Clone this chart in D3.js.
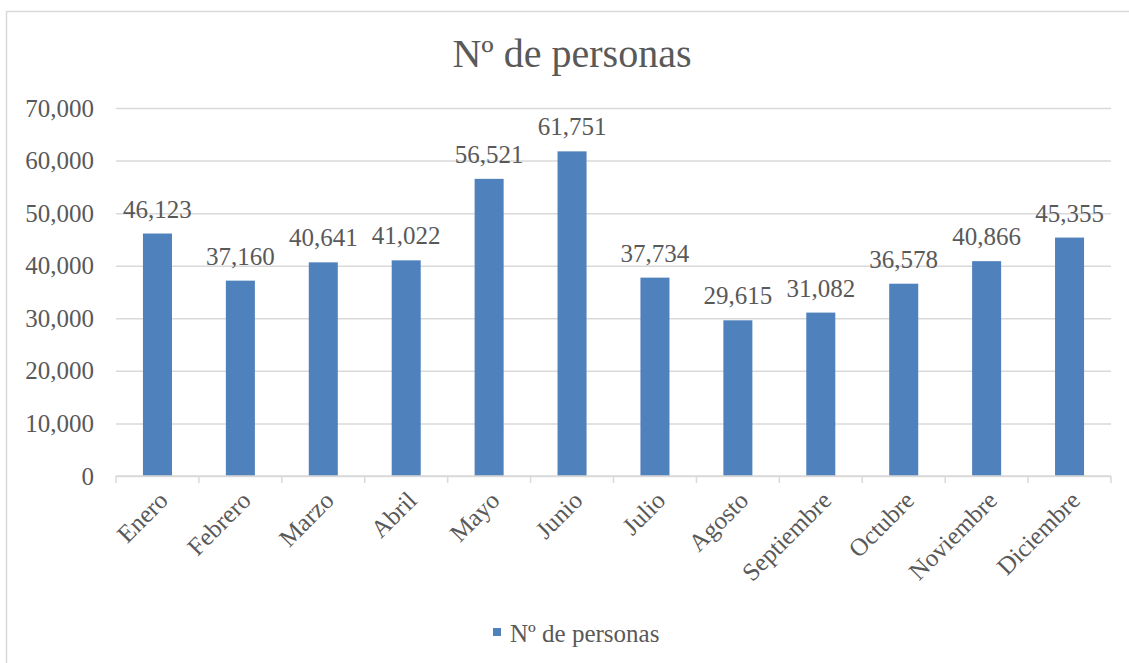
<!DOCTYPE html>
<html>
<head>
<meta charset="utf-8">
<script src="https://cdn.jsdelivr.net/npm/d3@7"></script>
<style>
  body { margin: 0; background: #fff; }
  text { font-family: "Liberation Serif", serif; fill: #595959; }
</style>
</head>
<body>
<div id="chart"></div>
<script>
// data
const months = ["Enero", "Febrero", "Marzo", "Abril", "Mayo", "Junio", "Julio",
  "Agosto", "Septiembre", "Octubre", "Noviembre", "Diciembre"];
const personas = [46123, 37160, 40641, 41022, 56521, 61751, 37734,
  29615, 31082, 36578, 40866, 45355];
const yTicks = [0, 10000, 20000, 30000, 40000, 50000, 60000, 70000];
const seriesName = "Nº de personas";

const W = 1129, H = 663;
const plot = { left: 116, right: 1111, top: 108, bottom: 476 };
const barColor = "#4F81BD";
const gridColor = "#d9d9d9";
const fmt = d3.format(",");

const svg = d3.select("#chart").append("svg")
  .attr("width", W).attr("height", H);

// chart border
svg.append("rect")
  .attr("x", 6.5).attr("y", 11.5)
  .attr("width", W + 10).attr("height", H + 10)
  .attr("fill", "none").attr("stroke", gridColor).attr("stroke-width", 1.5);

// scales
const x = d3.scaleBand().domain(months).range([plot.left, plot.right]).paddingInner(0.65).paddingOuter(0.325);
const xb = d3.scaleBand().domain(months).range([plot.left, plot.right]);
const y = d3.scaleLinear().domain([0, 70000]).range([plot.bottom, plot.top]);

// title
svg.append("text")
  .attr("x", 572).attr("y", 67)
  .attr("text-anchor", "middle")
  .style("font-size", "40px")
  .text(seriesName);

// gridlines + y axis labels
const yAxis = svg.append("g")
  .attr("transform", `translate(${plot.left},0)`)
  .call(d3.axisLeft(y).tickValues(yTicks).tickFormat(d => fmt(d))
    .tickSize(-(plot.right - plot.left)).tickPadding(22));
yAxis.select(".domain").remove();
yAxis.selectAll(".tick line").attr("stroke", gridColor).attr("stroke-width", 1.5);
yAxis.selectAll(".tick text")
  .attr("fill", "#595959")
  .attr("dy", "0.32em")
  .style("font-size", "25px")
  .style("font-family", "Liberation Serif, serif");

// bars
svg.append("g").selectAll("rect")
  .data(personas)
  .join("rect")
  .attr("x", (d, i) => x(months[i]))
  .attr("width", x.bandwidth())
  .attr("y", d => y(d))
  .attr("height", d => y(0) - y(d))
  .attr("fill", barColor);

// x axis line + ticks
const xAxis = svg.append("g")
  .attr("transform", `translate(0,${plot.bottom})`);
xAxis.append("line")
  .attr("x1", plot.left).attr("x2", plot.right)
  .attr("stroke", gridColor).attr("stroke-width", 1.5);
xAxis.selectAll("line.tk")
  .data(months.concat(["end"]))
  .join("line")
  .attr("class", "tk")
  .attr("x1", (d, i) => i < months.length ? xb(d) : plot.right)
  .attr("x2", (d, i) => i < months.length ? xb(d) : plot.right)
  .attr("y1", 0).attr("y2", 7)
  .attr("stroke", gridColor).attr("stroke-width", 1.5);

// x labels rotated
xAxis.selectAll("text.lbl")
  .data(months)
  .join("text")
  .attr("class", "lbl")
  .attr("text-anchor", "end")
  .attr("transform", d => `translate(${xb(d) + xb.bandwidth() / 2 + 12},${26}) rotate(-45)`)
  .style("font-size", "25px")
  .text(d => d);

// data labels
svg.append("g").selectAll("text")
  .data(personas)
  .join("text")
  .attr("x", (d, i) => x(months[i]) + x.bandwidth() / 2)
  .attr("y", d => y(d) - 16)
  .attr("text-anchor", "middle")
  .attr("fill", "#404040")
  .style("font-size", "25px")
  .text(d => fmt(d));

// legend
const lg = svg.append("g").attr("transform", "translate(493,628)");
lg.append("rect").attr("width", 8).attr("height", 8).attr("fill", barColor);
lg.append("text").attr("x", 17).attr("y", 14).style("font-size", "25px").text(seriesName);
</script>
</body>
</html>
